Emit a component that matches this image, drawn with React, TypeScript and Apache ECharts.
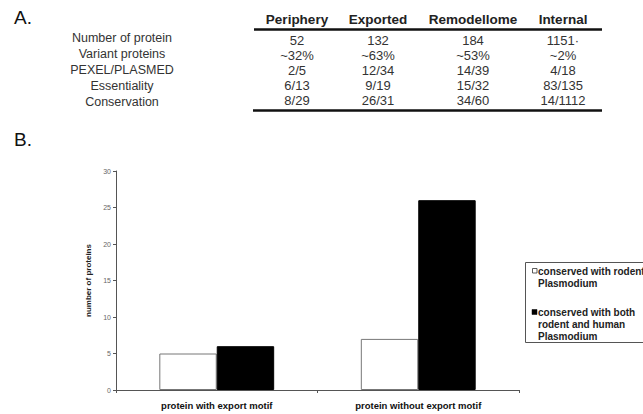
import React, { useEffect, useRef } from 'react';
import * as echarts from 'echarts';

// ---- Table (part A) ----
const tableColumns = ['Periphery', 'Exported', 'Remodellome', 'Internal'];
const tableRowLabels = ['Number of protein', 'Variant proteins', 'PEXEL/PLASMED', 'Essentiality', 'Conservation'];
const numberOfProtein = ['52', '132', '184', '1151·'];
const variantProteins = ['~32%', '~63%', '~53%', '~2%'];
const pexelPlasmed = ['2/5', '12/34', '14/39', '4/18'];
const essentiality = ['6/13', '9/19', '15/32', '83/135'];
const conservation = ['8/29', '26/31', '34/60', '14/1112'];
const tableRows = [numberOfProtein, variantProteins, pexelPlasmed, essentiality, conservation];

// ---- Bar chart (part B) ----
const categories = ['protein with export motif', 'protein without export motif'];
const rodentValues = [5, 7];
const bothValues = [6, 26];
const legendLines = [
  ['conserved with rodent', 'Plasmodium'],
  ['conserved with both', 'rodent and human', 'Plasmodium'],
];
const seriesNames = legendLines.map((l) => l.join(' '));
const yMin = 0;
const yMax = 30;
const yInterval = 5;

const FONT = '"Liberation Sans", Arial, sans-serif';

function txt(text: string, x: number, y: number, opts: any = {}) {
  const align = opts.align || 'center';
  const va = opts.verticalAlign || 'middle';
  return {
    type: 'text',
    x,
    y,
    silent: true,
    style: {
      text,
      fontSize: opts.fontSize || 13,
      fontFamily: FONT,
      fontWeight: opts.fontWeight || 'normal',
      fill: opts.fill || '#222',
      align,
      textAlign: align,
      verticalAlign: va,
      textVerticalAlign: va,
      lineHeight: opts.lineHeight,
    },
  };
}

export default function App() {
  const ref = useRef<HTMLDivElement>(null);

  useEffect(() => {
    document.body.style.margin = '0';
    const chart = echarts.init(ref.current as HTMLDivElement, null, { renderer: 'svg' });

    const colX = [297, 378, 473, 563];
    const labelRowY = [38, 54, 70, 86, 102];
    const valueRowY = [40, 55, 70, 85, 100];

    const graphics: any[] = [];
    graphics.push(txt('A.', 14, 17.5, { align: 'left', fontSize: 19, fill: '#111' }));
    graphics.push(txt('B.', 14, 139.5, { align: 'left', fontSize: 19, fill: '#111' }));

    tableColumns.forEach((c, i) => {
      graphics.push(txt(c, colX[i], 19, { fontWeight: 'bold', fontSize: 13.5, fill: '#222' }));
    });
    graphics.push({
      type: 'line',
      silent: true,
      shape: { x1: 254, y1: 29.5, x2: 602, y2: 29.5 },
      style: { stroke: '#111', lineWidth: 2.5 },
    });
    graphics.push({
      type: 'line',
      silent: true,
      shape: { x1: 253, y1: 110.5, x2: 602, y2: 110.5 },
      style: { stroke: '#111', lineWidth: 2.5 },
    });
    tableRowLabels.forEach((l, r) => {
      graphics.push(txt(l, 122, labelRowY[r], { fontSize: 12.5, fill: '#333' }));
    });
    tableRows.forEach((row, r) => {
      row.forEach((v, i) => {
        graphics.push(txt(v, colX[i], valueRowY[r], { fontSize: 13, fill: '#333' }));
      });
    });

    // Legend box (cut by right edge like the reference)
    graphics.push({
      type: 'rect',
      silent: true,
      shape: { x: 525.5, y: 262.5, width: 140, height: 80 },
      style: { fill: '#fff', stroke: '#555', lineWidth: 1 },
    });
    graphics.push({
      type: 'rect',
      silent: true,
      shape: { x: 532.5, y: 268.5, width: 4.5, height: 4.5 },
      style: { fill: '#fff', stroke: '#333', lineWidth: 0.8 },
    });
    graphics.push({
      type: 'rect',
      silent: true,
      shape: { x: 532, y: 309.5, width: 5, height: 5 },
      style: { fill: '#000', stroke: '#000', lineWidth: 0.5 },
    });
    const legendTops = [265, 306];
    legendLines.forEach((lines, k) => {
      lines.forEach((line, j) => {
        graphics.push(
          txt(line, 538, legendTops[k] + 6 + j * 12, { align: 'left', fontSize: 10, fontWeight: 'bold', fill: '#222' })
        );
      });
    });

    chart.setOption({
      animation: false,
      backgroundColor: '#fff',
      grid: { left: 116, right: 124, top: 171, bottom: 24, containLabel: false },
      xAxis: {
        type: 'category',
        data: categories,
        axisLine: { show: true, lineStyle: { color: '#555', width: 1 } },
        axisTick: { show: true, length: 3, lineStyle: { color: '#555' } },
        axisLabel: {
          fontSize: 9.5,
          fontWeight: 'bold',
          fontFamily: FONT,
          color: '#111',
          margin: 10,
          interval: 0,
        },
      },
      yAxis: {
        type: 'value',
        min: yMin,
        max: yMax,
        interval: yInterval,
        name: 'number of proteins',
        nameLocation: 'middle',
        nameRotate: 90,
        nameGap: 23,
        nameTextStyle: { fontSize: 8, fontWeight: 'bold', fontFamily: FONT, color: '#222' },
        axisLine: { show: true, lineStyle: { color: '#555', width: 1 } },
        axisTick: { show: true, length: 3, lineStyle: { color: '#555' } },
        axisLabel: { fontSize: 7, fontFamily: FONT, color: '#666', margin: 5 },
        splitLine: { show: false },
      },
      series: [
        {
          name: seriesNames[0],
          type: 'bar',
          data: rodentValues,
          barGap: '0%',
          barCategoryGap: '43%',
          itemStyle: { color: '#fff', borderColor: '#777', borderWidth: 1 },
        },
        {
          name: seriesNames[1],
          type: 'bar',
          data: bothValues,
          barGap: '0%',
          barCategoryGap: '43%',
          itemStyle: { color: '#000', borderColor: '#000', borderWidth: 1 },
        },
      ],
      graphic: graphics,
    });

    return () => {
      chart.dispose();
    };
  }, []);

  return <div ref={ref} style={{ width: 643, height: 414 }} />;
}
